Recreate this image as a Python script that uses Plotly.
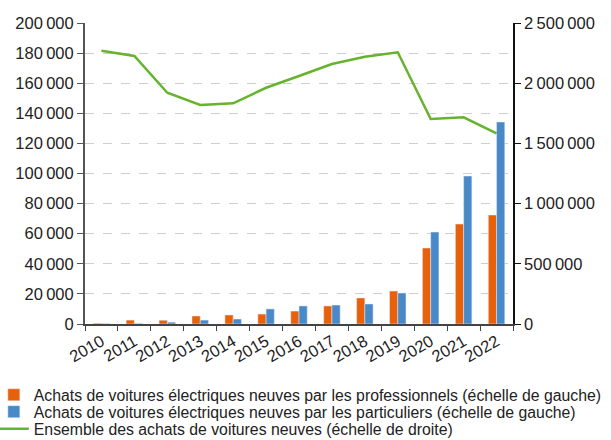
import plotly.graph_objects as go

years = ["2010", "2011", "2012", "2013", "2014", "2015", "2016",
         "2017", "2018", "2019", "2020", "2021", "2022"]
pro = [500, 2600, 2500, 5300, 6000, 6600, 8600, 12000, 17300, 21900, 50500, 66400, 72400]
part = [300, 400, 1200, 2600, 3300, 10000, 12000, 12600, 13300, 20600, 61100, 98300, 134200]
total = [2270000, 2226000, 1921000, 1819000, 1833000, 1962000, 2060000,
         2159000, 2220000, 2257000, 1703000, 1717000, 1584000]

left_ticks = [0, 20000, 40000, 60000, 80000, 100000, 120000, 140000, 160000, 180000, 200000]
right_ticks = [0, 500000, 1000000, 1500000, 2000000, 2500000]

def fmt(v):
    return f"{v:,}".replace(",", "\u202f")

FONT = "Liberation Sans, Arial, sans-serif"

fig = go.Figure()
fig.add_trace(go.Bar(x=years, y=pro, name="Achats de voitures électriques neuves par les professionnels (échelle de gauche)",
                     marker_color="#E8600A", yaxis="y", legend="legend", showlegend=True))
fig.add_trace(go.Bar(x=years, y=part, name="Achats de voitures électriques neuves par les particuliers (échelle de gauche)",
                     marker_color="#4A89C8", yaxis="y", legend="legend2", showlegend=True))
fig.add_trace(go.Scatter(x=years, y=total, name="Ensemble des achats de voitures neuves (échelle de droite)",
                         mode="lines", line=dict(color="#66B32E", width=2.5), yaxis="y2",
                         legend="legend3", showlegend=True))

leg_common = dict(orientation="v", x=-0.213, xanchor="left", yanchor="middle",
                  font=dict(size=15.8, color="#222"), itemwidth=30, bgcolor="rgba(0,0,0,0)")

fig.update_layout(
    width=611, height=440,
    showlegend=True,
    margin=dict(l=85, r=98, t=23, b=116, autoexpand=False),
    plot_bgcolor="white", paper_bgcolor="white",
    font=dict(family=FONT, size=16.5, color="#222"),
    barmode="group", bargap=0.5, bargroupgap=0,
    xaxis=dict(type="category", tickangle=-30, ticks="outside", tickson="boundaries",
               ticklen=5, tickcolor="#444", showline=True, linecolor="#444", linewidth=1.5,
               showgrid=False, tickfont=dict(size=16.5)),
    yaxis=dict(range=[0, 200000], tickvals=left_ticks, ticktext=[fmt(v) for v in left_ticks],
               showline=True, linecolor="#555", linewidth=2, ticks="outside", ticklen=6,
               tickcolor="#555", showgrid=True, gridcolor="#cfcfcf", griddash="dash", gridwidth=1,
               zeroline=False, tickfont=dict(size=16.5)),
    yaxis2=dict(range=[0, 2500000], tickvals=right_ticks, ticktext=[fmt(v) for v in right_ticks],
                overlaying="y", side="right", showline=True, linecolor="#111", linewidth=1.5,
                ticks="outside", ticklen=6, tickcolor="#111", showgrid=False, zeroline=False,
                tickfont=dict(size=16.5)),
    legend=dict(leg_common, y=-0.236),
    legend2=dict(leg_common, y=-0.292),
    legend3=dict(leg_common, y=-0.349),
)

fig.write_html("out.html", config={"displayModeBar": False},
               post_script="document.body.style.margin='0';")
